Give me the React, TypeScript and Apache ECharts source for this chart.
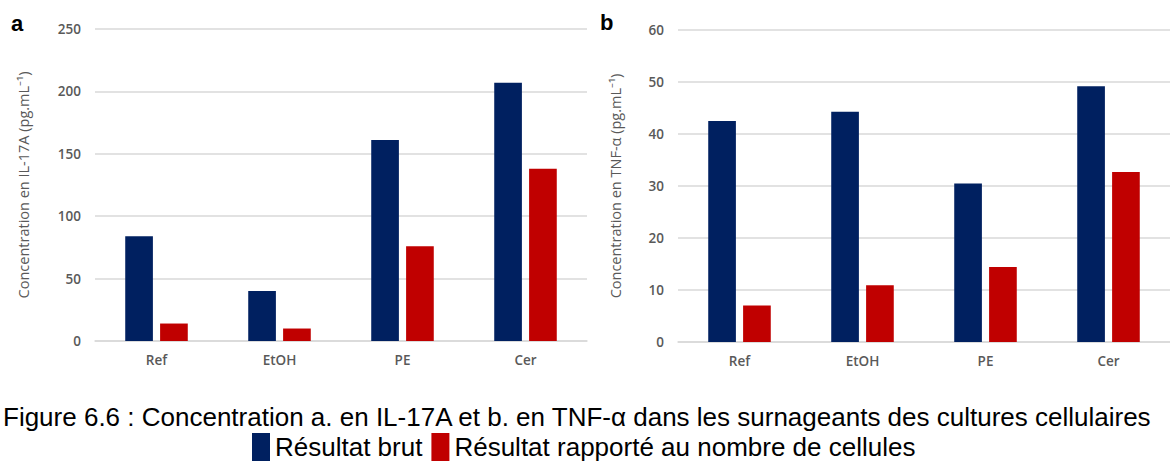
import React, { useEffect, useRef } from "react";
import * as echarts from "echarts";

const categories = ["Ref", "EtOH", "PE", "Cer"];
const il17Brut = [84, 40, 161, 207];
const il17Rapporte = [14, 10, 76, 138];
const tnfBrut = [42.5, 44.3, 30.5, 49.2];
const tnfRapporte = [7.0, 10.9, 14.4, 32.7];
const il17Ticks = { min: 0, max: 250, interval: 50 };
const tnfTicks = { min: 0, max: 60, interval: 10 };
const seriesNames = ["Résultat brut", "Résultat rapporté au nombre de cellules"];
const colors = ["#002060", "#C00000"];
const caption = "Figure 6.6 : Concentration a. en IL-17A et b. en TNF-α dans les surnageants des cultures cellulaires";

const axisFont = "'Open Sans', sans-serif";
const captionFont = "'Liberation Sans', Arial, sans-serif";
const gridColor = "#D9D9D9";
const labelColor = "#595959";

export default function App() {
  const ref = useRef<HTMLDivElement>(null);
  useEffect(() => {
    document.body.style.margin = "0";
    const chart = echarts.init(ref.current!, null, { renderer: "svg" });
    const xAxisBase = {
      type: "category" as const,
      data: categories,
      axisTick: { show: false },
      axisLine: { lineStyle: { color: gridColor, width: 1.5 } },
      axisLabel: { color: labelColor, fontFamily: axisFont, fontSize: 13.5, fontWeight: 600, margin: 12 },
    };
    const yAxisBase = {
      type: "value" as const,
      axisLine: { show: false },
      axisTick: { show: false },
      splitLine: { lineStyle: { color: gridColor, width: 1.5 } },
      axisLabel: { color: labelColor, fontFamily: axisFont, fontSize: 13.5, fontWeight: 600, margin: 14 },
      nameLocation: "middle" as const,
      nameTextStyle: { color: labelColor, fontFamily: axisFont, fontSize: 14.5 },
    };
    const barBase = { type: "bar" as const, barWidth: "22.5%", barGap: "26%" };
    chart.setOption({
      animation: false,
      legend: {
        data: seriesNames,
        left: 252,
        top: 433,
        itemWidth: 18,
        itemHeight: 28,
        itemGap: 9,
        itemTextGap: 8,
        itemStyle: { borderWidth: 0 },
        textStyle: { fontFamily: captionFont, fontSize: 26, lineHeight: 24, color: "#000" },
        icon: "rect",
        padding: 0,
      },
      graphic: [
        { type: "text", left: 11, top: 12, style: { text: "a", font: "bold 22px 'Liberation Sans', Arial", fill: "#000" } },
        { type: "text", left: 600, top: 11, style: { text: "b", font: "bold 22px 'Liberation Sans', Arial", fill: "#000" } },
        {
          type: "text",
          x: 3,
          y: 417,
          style: { text: caption, fontFamily: captionFont, fontSize: 26, fill: "#000", verticalAlign: "middle", align: "left" },
        },
      ],
      grid: [
        { left: 95, right: 583, top: 29, bottom: 120 },
        { left: 678, right: -8, top: 30, bottom: 119 },
      ],
      xAxis: [
        { ...xAxisBase, gridIndex: 0 },
        { ...xAxisBase, gridIndex: 1 },
      ],
      yAxis: [
        { ...yAxisBase, gridIndex: 0, ...il17Ticks, name: "Concentration en IL-17A (pg.mL⁻¹)", nameGap: 64 },
        { ...yAxisBase, gridIndex: 1, ...tnfTicks, name: "Concentration en TNF-α (pg.mL⁻¹)", nameGap: 55 },
      ],
      series: [
        { ...barBase, name: seriesNames[0], data: il17Brut, xAxisIndex: 0, yAxisIndex: 0, itemStyle: { color: colors[0] } },
        { ...barBase, name: seriesNames[1], data: il17Rapporte, xAxisIndex: 0, yAxisIndex: 0, itemStyle: { color: colors[1] } },
        { ...barBase, name: seriesNames[0], data: tnfBrut, xAxisIndex: 1, yAxisIndex: 1, itemStyle: { color: colors[0] } },
        { ...barBase, name: seriesNames[1], data: tnfRapporte, xAxisIndex: 1, yAxisIndex: 1, itemStyle: { color: colors[1] } },
      ],
    });
    return () => chart.dispose();
  }, []);
  return <div ref={ref} style={{ width: 1170, height: 461, overflow: "hidden" }} />;
}
